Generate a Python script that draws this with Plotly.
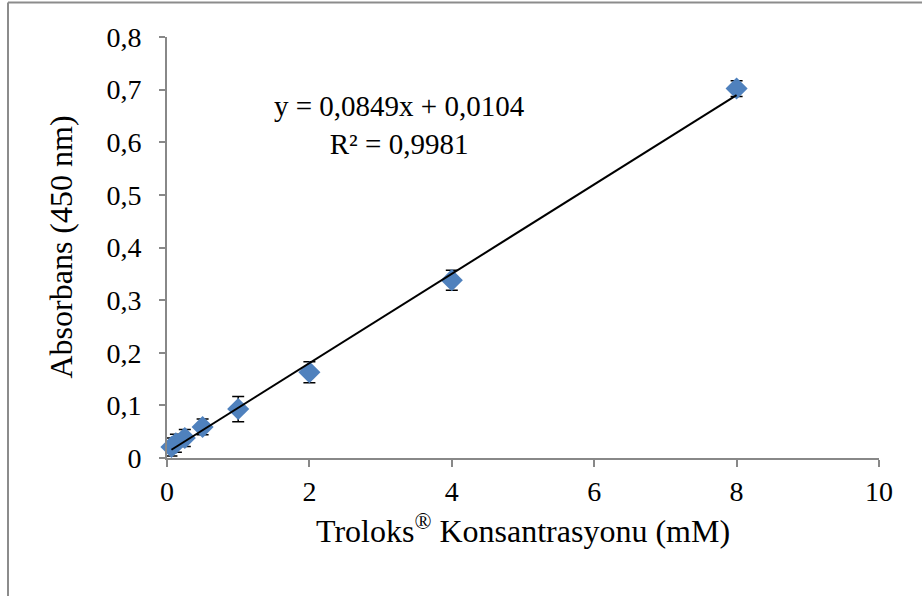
import plotly.graph_objects as go

# Troloks standard curve: concentration (mM) vs absorbance at 450 nm
concentration = [0.0625, 0.125, 0.25, 0.5, 1, 2, 4, 8]
absorbance = [0.021, 0.028, 0.038, 0.059, 0.093, 0.163, 0.338, 0.702]
abs_error = [0.017, 0.017, 0.016, 0.015, 0.024, 0.020, 0.019, 0.015]

slope = 0.0849
intercept = 0.0104
r_squared = "0,9981"

x_ticks = [0, 2, 4, 6, 8, 10]
y_ticks = [0, 0.1, 0.2, 0.3, 0.4, 0.5, 0.6, 0.7, 0.8]

font_family = "Liberation Serif, Times New Roman, serif"
axis_grey = "#888888"

fit_x = [min(concentration), max(concentration)]
fit_y = [slope * v + intercept for v in fit_x]

fig = go.Figure()

fig.add_trace(go.Scatter(
    x=concentration, y=absorbance, mode="markers",
    marker=dict(symbol="diamond", size=17, color="#4F81BD"),
    error_y=dict(type="data", array=abs_error, color="black",
                 thickness=1.5, width=6),
    showlegend=False, cliponaxis=False,
))

fig.add_trace(go.Scatter(
    x=fit_x, y=fit_y, mode="lines",
    line=dict(color="black", width=2),
    showlegend=False,
))

fig.add_annotation(
    x=3.27, y=0.633, xref="x", yref="y",
    text=f"y = {slope:.4f}x + {intercept:.4f}".replace(".", ",") + f"<br>R² = {r_squared}",
    showarrow=False, align="center",
    font=dict(family=font_family, size=29, color="black"),
)

# Outer frame lines (top and left)
ml, mr, mt, mb = 167, 43, 37, 138
pw, ph = 922 - ml - mr, 596 - mt - mb
left_x = (8 - ml) / pw
top_y = 1 + (mt - 2.5) / ph
fig.add_shape(type="line", xref="paper", yref="paper",
              x0=left_x, x1=(922 - ml) / pw, y0=top_y, y1=top_y,
              line=dict(color="#8c8c8c", width=2))
fig.add_shape(type="line", xref="paper", yref="paper",
              x0=left_x, x1=left_x, y0=top_y, y1=-(mb + 5) / ph,
              line=dict(color="#8c8c8c", width=2))

# Y-axis title placed as a rotated annotation
fig.add_annotation(
    x=(60 - ml) / pw, y=0.5, xref="paper", yref="paper",
    text="Absorbans (450 nm)", textangle=-90, showarrow=False,
    xanchor="center", yanchor="middle",
    font=dict(family=font_family, size=32, color="black"),
)

fig.update_layout(
    width=922, height=596,
    margin=dict(l=ml, r=mr, t=mt, b=mb),
    paper_bgcolor="white", plot_bgcolor="white",
    separators=",.",
    font=dict(family=font_family, size=28, color="black"),
    xaxis=dict(
        range=[0, 10], tickvals=x_ticks, showgrid=False, zeroline=False,
        showline=True, linecolor=axis_grey, linewidth=2,
        ticks="outside", ticklen=7, tickwidth=2, tickcolor=axis_grey,
        tickfont=dict(size=28),
        title=dict(text="Troloks<sup>®</sup> Konsantrasyonu (mM)",
                   font=dict(size=32), standoff=14),
    ),
    yaxis=dict(
        range=[0, 0.8], tickvals=y_ticks, showgrid=False, zeroline=False,
        showline=True, linecolor=axis_grey, linewidth=2,
        ticks="outside", ticklen=6, tickwidth=2, tickcolor=axis_grey,
        tickfont=dict(size=28), ticklabelstandoff=12,
    ),
)

fig.write_html("out.html")
